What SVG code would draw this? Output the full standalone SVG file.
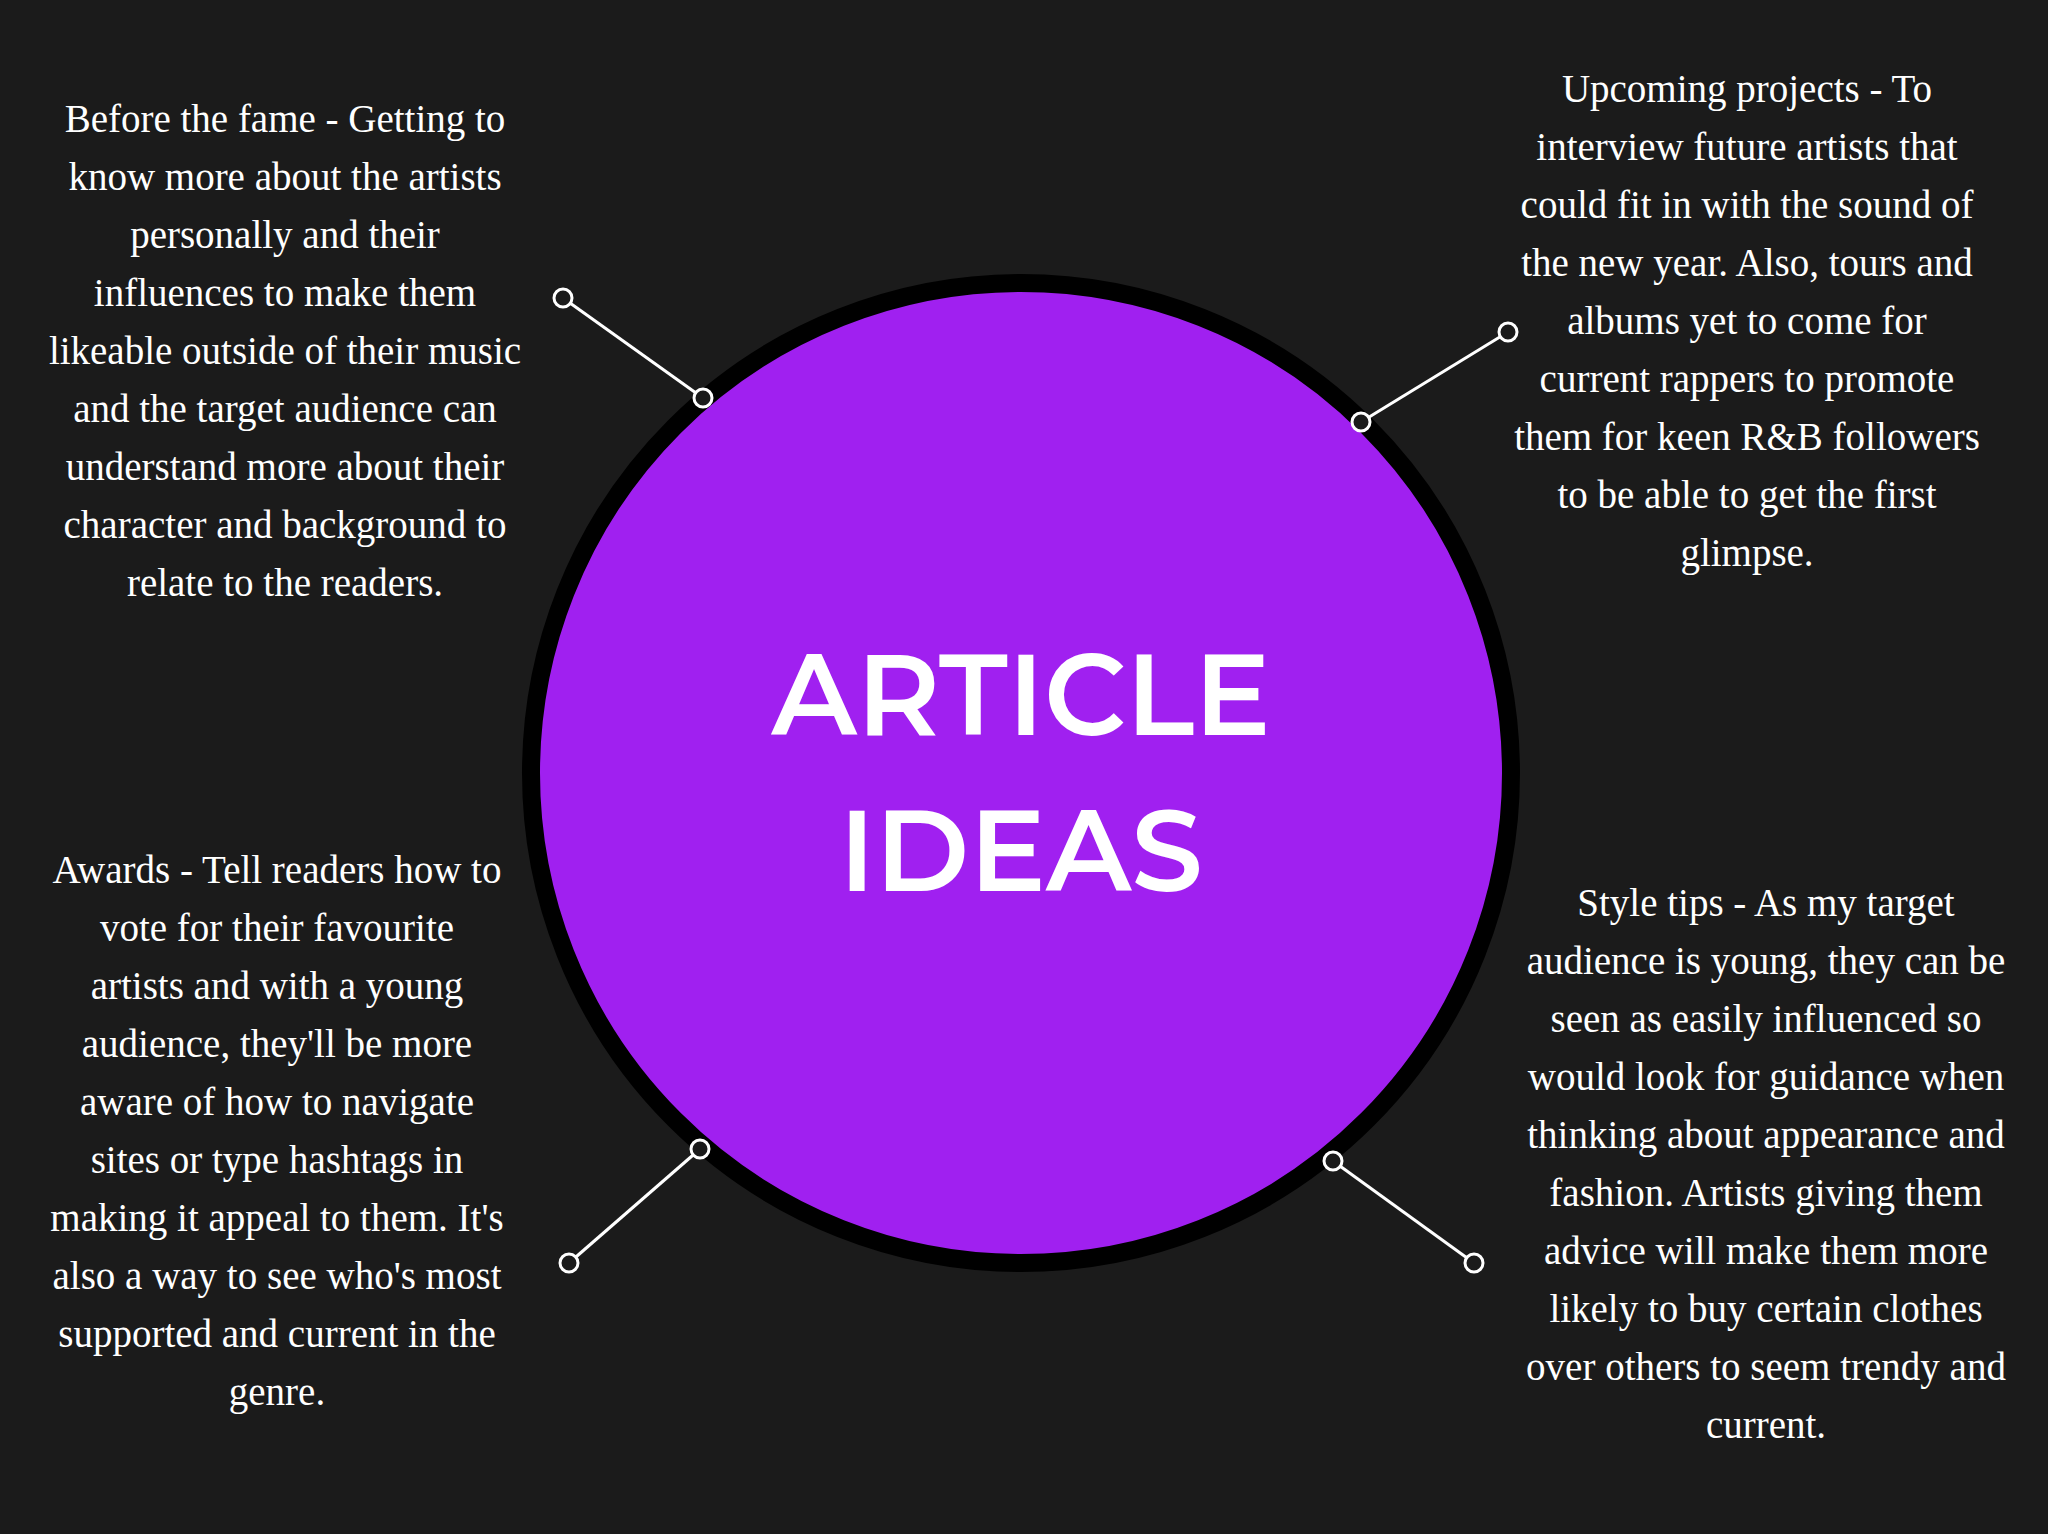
<svg xmlns="http://www.w3.org/2000/svg" width="2048" height="1534" viewBox="0 0 2048 1534">
<style>
.t{font-family:"Liberation Serif","DejaVu Serif",serif;font-size:39px;fill:#fff;text-anchor:middle}
.h{font-family:"Montserrat","Open Sans","Liberation Sans",sans-serif;font-weight:600;font-size:114px;fill:#fff;text-anchor:middle}
.c{stroke:#fff;stroke-width:3}
.d{fill:#1b1b1b;stroke:#fff;stroke-width:3}
</style>
<rect width="2048" height="1534" fill="#1b1b1b"/>
<g id="center">
<circle cx="1021" cy="773" r="490" fill="#a020f0" stroke="#000" stroke-width="18"/>
<text class="h" x="1021" y="735">ARTICLE</text>
<text class="h" x="1021" y="891">IDEAS</text>
</g>
<g id="connectors">
<line class="c" x1="563" y1="298" x2="703" y2="398"/><circle class="d" cx="563" cy="298" r="9"/><circle class="d" cx="703" cy="398" r="9"/>
<line class="c" x1="1508" y1="332" x2="1361" y2="422"/><circle class="d" cx="1508" cy="332" r="9"/><circle class="d" cx="1361" cy="422" r="9"/>
<line class="c" x1="700" y1="1149" x2="569" y2="1263"/><circle class="d" cx="700" cy="1149" r="9"/><circle class="d" cx="569" cy="1263" r="9"/>
<line class="c" x1="1333" y1="1161" x2="1474" y2="1263"/><circle class="d" cx="1333" cy="1161" r="9"/><circle class="d" cx="1474" cy="1263" r="9"/>
</g>
<g id="before">
<text class="t" x="285" y="132">Before the fame - Getting to</text>
<text class="t" x="285" y="190">know more about the artists</text>
<text class="t" x="285" y="248">personally and their</text>
<text class="t" x="285" y="306">influences to make them</text>
<text class="t" x="285" y="364">likeable outside of their music</text>
<text class="t" x="285" y="422">and the target audience can</text>
<text class="t" x="285" y="480">understand more about their</text>
<text class="t" x="285" y="538">character and background to</text>
<text class="t" x="285" y="596">relate to the readers.</text>
</g>
<g id="upcoming">
<text class="t" x="1747" y="102">Upcoming projects - To</text>
<text class="t" x="1747" y="160">interview future artists that</text>
<text class="t" x="1747" y="218">could fit in with the sound of</text>
<text class="t" x="1747" y="276">the new year. Also, tours and</text>
<text class="t" x="1747" y="334">albums yet to come for</text>
<text class="t" x="1747" y="392">current rappers to promote</text>
<text class="t" x="1747" y="450">them for keen R&amp;B followers</text>
<text class="t" x="1747" y="508">to be able to get the first</text>
<text class="t" x="1747" y="566">glimpse.</text>
</g>
<g id="awards">
<text class="t" x="277" y="883">Awards - Tell readers how to</text>
<text class="t" x="277" y="941">vote for their favourite</text>
<text class="t" x="277" y="999">artists and with a young</text>
<text class="t" x="277" y="1057">audience, they'll be more</text>
<text class="t" x="277" y="1115">aware of how to navigate</text>
<text class="t" x="277" y="1173">sites or type hashtags in</text>
<text class="t" x="277" y="1231">making it appeal to them. It's</text>
<text class="t" x="277" y="1289">also a way to see who's most</text>
<text class="t" x="277" y="1347">supported and current in the</text>
<text class="t" x="277" y="1405">genre.</text>
</g>
<g id="style">
<text class="t" x="1766" y="916">Style tips - As my target</text>
<text class="t" x="1766" y="974">audience is young, they can be</text>
<text class="t" x="1766" y="1032">seen as easily influenced so</text>
<text class="t" x="1766" y="1090">would look for guidance when</text>
<text class="t" x="1766" y="1148">thinking about appearance and</text>
<text class="t" x="1766" y="1206">fashion. Artists giving them</text>
<text class="t" x="1766" y="1264">advice will make them more</text>
<text class="t" x="1766" y="1322">likely to buy certain clothes</text>
<text class="t" x="1766" y="1380">over others to seem trendy and</text>
<text class="t" x="1766" y="1438">current.</text>
</g>
</svg>
